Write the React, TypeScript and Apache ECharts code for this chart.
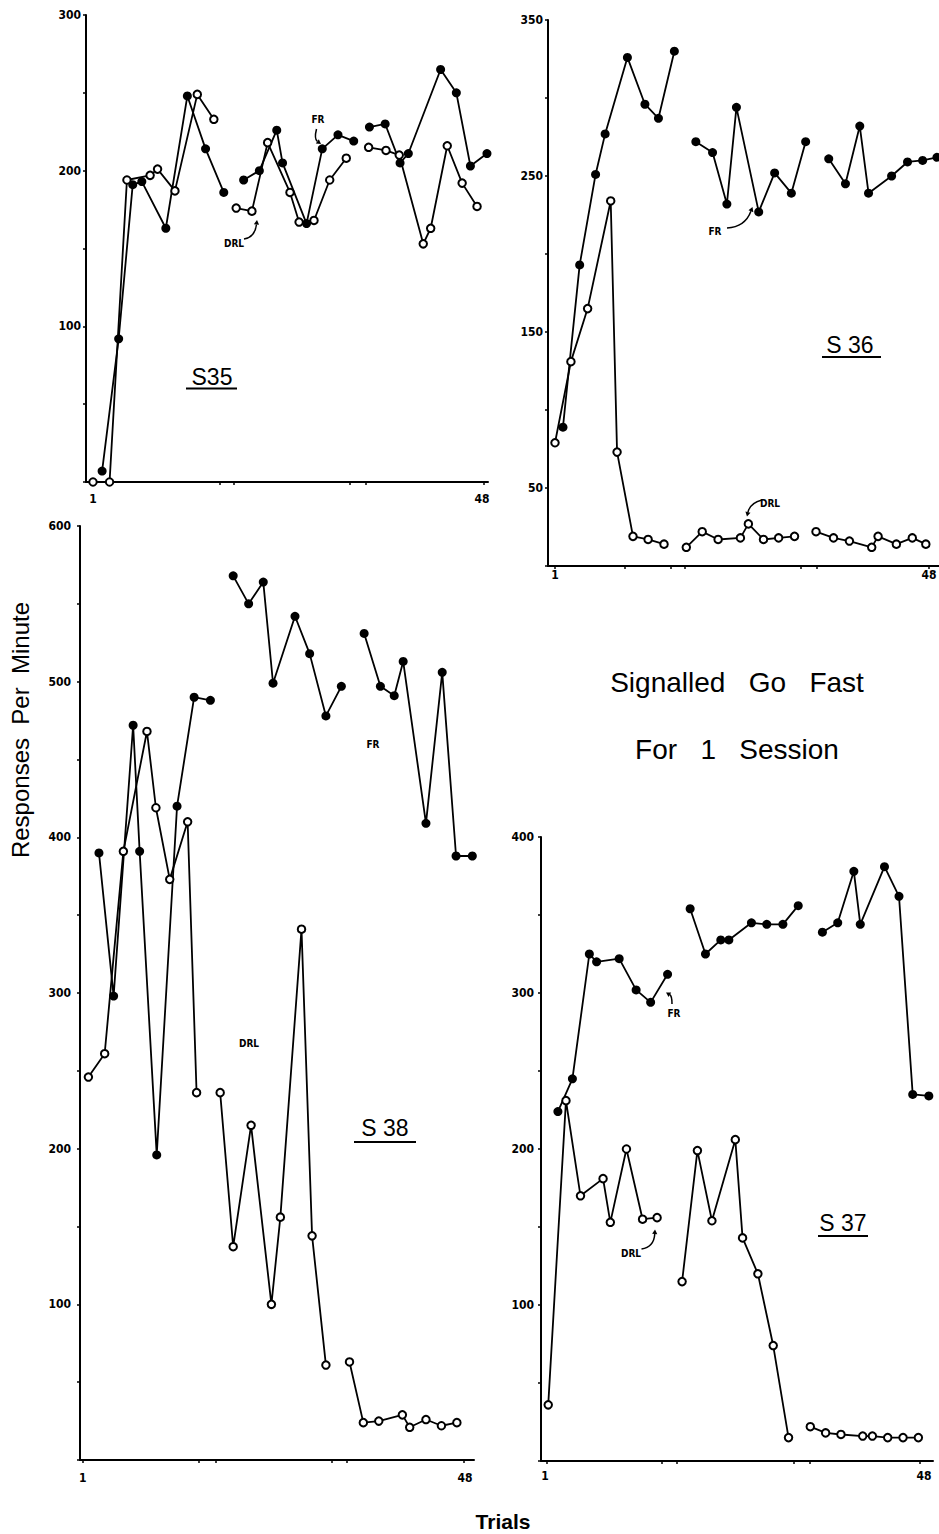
import { useEffect, useRef } from "react";
import * as echarts from "echarts";

type Pt = [number, number];

// ---- tick labels ----
const trialLabels = [1, 48];
const s35YLabels = [100, 200, 300];
const s36YLabels = [50, 150, 250, 350];
const s38YLabels = [100, 200, 300, 400, 500, 600];
const s37YLabels = [100, 200, 300, 400];

// session-boundary ticks on the trial axes
const s35XTicks = [1.1, 16.3, 18.0, 32.0, 34.0, 48.2];
const s36XTicks = [1, 9.8, 15.5, 17.3, 31.9, 33.9, 48];
const s38XTicks = [1, 15.3, 17.3, 31.6, 33.5, 47.9];
const s37XTicks = [1.2, 15.5, 17.4, 31.9, 33.8, 47.5];

// ---- data: [trial, responses per minute], one array per session ----
const s35FR: Pt[][] = [
  [[2.1, 7], [4.1, 92], [5.8, 191], [6.9, 193], [9.8, 163], [12.4, 248], [14.6, 214], [16.8, 186]],
  [[19.2, 194], [21.1, 200], [23.2, 226], [23.9, 205], [26.8, 166], [28.7, 214], [30.6, 223], [32.5, 219]],
  [[34.4, 228], [36.3, 230], [38.1, 205], [39.1, 211], [43.0, 265], [44.9, 250], [46.6, 203], [48.6, 211]],
];
const s35DRL: Pt[][] = [
  [[1.0, 0], [3.0, 0], [5.1, 194], [7.9, 197], [8.8, 201], [10.9, 187], [13.6, 249], [15.6, 233]],
  [[18.3, 176], [20.2, 174], [22.1, 218], [24.8, 186], [25.9, 167], [27.7, 168], [29.6, 194], [31.6, 208]],
  [[34.3, 215], [36.4, 213], [38.0, 210], [40.9, 153], [41.8, 163], [43.8, 216], [45.6, 192], [47.4, 177]],
];

const s36FR: Pt[][] = [
  [[2.0, 89], [4.1, 193], [6.1, 251], [7.3, 277], [10.1, 326], [12.3, 296], [14.0, 287], [16.0, 330]],
  [[18.7, 272], [20.8, 265], [22.6, 232], [23.8, 294], [26.6, 227], [28.6, 252], [30.7, 239], [32.5, 272]],
  [[35.4, 261], [37.5, 245], [39.3, 282], [40.4, 239], [43.3, 250], [45.3, 259], [47.2, 260], [49.0, 262]],
];
const s36DRL: Pt[][] = [
  [[1.0, 79], [3.0, 131], [5.1, 165], [8.0, 234], [8.8, 73], [10.8, 19], [12.7, 17], [14.7, 14]],
  [[17.5, 12], [19.5, 22], [21.5, 17], [24.3, 18], [25.3, 27], [27.2, 17], [29.1, 18], [31.1, 19]],
  [[33.8, 22], [36.0, 18], [38.0, 16], [40.8, 12], [41.6, 19], [43.9, 14], [45.9, 18], [47.6, 14]],
];

const s38FR: Pt[][] = [
  [[3.0, 390], [4.8, 298], [7.2, 472], [8.0, 391], [10.1, 196], [12.6, 420], [14.7, 490], [16.7, 488]],
  [[19.5, 568], [21.4, 550], [23.2, 564], [24.4, 499], [27.1, 542], [28.9, 518], [30.9, 478], [32.8, 497]],
  [[35.6, 531], [37.6, 497], [39.3, 491], [40.4, 513], [43.2, 409], [45.2, 506], [46.9, 388], [48.9, 388]],
];
const s38DRL: Pt[][] = [
  [[1.7, 246], [3.7, 261], [6.0, 391], [8.9, 468], [10.0, 419], [11.7, 373], [13.9, 410], [15.0, 236]],
  [[17.9, 236], [19.5, 137], [21.7, 215], [24.2, 100], [25.3, 156], [27.9, 341], [29.2, 144], [30.9, 61]],
  [[33.8, 63], [35.5, 24], [37.4, 25], [40.3, 29], [41.2, 21], [43.2, 26], [45.1, 22], [47.0, 24]],
];

const s37FR: Pt[][] = [
  [[2.6, 224], [4.4, 245], [6.5, 325], [7.4, 320], [10.2, 322], [12.3, 302], [14.1, 294], [16.2, 312]],
  [[19.0, 354], [20.9, 325], [22.8, 334], [23.8, 334], [26.6, 345], [28.5, 344], [30.5, 344], [32.4, 356]],
  [[35.4, 339], [37.3, 345], [39.3, 378], [40.1, 344], [43.1, 381], [44.9, 362], [46.6, 235], [48.6, 234]],
];
const s37DRL: Pt[][] = [
  [[1.4, 36], [3.6, 231], [5.4, 170], [8.2, 181], [9.1, 153], [11.1, 200], [13.1, 155], [14.9, 156]],
  [[18.0, 115], [19.9, 199], [21.7, 154], [24.6, 206], [25.5, 143], [27.4, 120], [29.3, 74], [31.2, 15]],
  [[33.9, 22], [35.8, 18], [37.7, 17], [40.4, 16], [41.6, 16], [43.5, 15], [45.4, 15], [47.3, 15]],
];

// ---- layout of the four panels (pixels) ----
const panels = [
  { fr: s35FR, drl: s35DRL, yLabels: s35YLabels, xTicks: s35XTicks, yMax: 300,
    left: 86, top: 15, right: 488, bottom: 482, px1: 93, px48: 482, yMargin: 5, xMargin: 11 },
  { fr: s36FR, drl: s36DRL, yLabels: s36YLabels, xTicks: s36XTicks, yMax: 350,
    left: 548, top: 20, right: 939, bottom: 566, px1: 555, px48: 929, yMargin: 5, xMargin: 3 },
  { fr: s38FR, drl: s38DRL, yLabels: s38YLabels, xTicks: s38XTicks, yMax: 600,
    left: 80, top: 526, right: 474, bottom: 1460, px1: 82.7, px48: 465, yMargin: 9, xMargin: 12 },
  { fr: s37FR, drl: s37DRL, yLabels: s37YLabels, xTicks: s37XTicks, yMax: 400,
    left: 541, top: 837, right: 933, bottom: 1461, px1: 545, px48: 924, yMargin: 7, xMargin: 9 },
];

const smallFont = "DejaVu Sans Condensed";
const mainFont = "Liberation Sans";

function arrow(x1: number, y1: number, cx: number, cy: number, x2: number, y2: number) {
  const a = Math.atan2(y2 - cy, x2 - cx);
  const s = 4.5;
  const w = 2.6;
  const bx = x2 - s * Math.cos(a);
  const by = y2 - s * Math.sin(a);
  const p2 = [bx + w * Math.sin(a), by - w * Math.cos(a)];
  const p3 = [bx - w * Math.sin(a), by + w * Math.cos(a)];
  return [
    { type: "bezierCurve", silent: true, shape: { x1, y1, x2: bx, y2: by, cpx1: cx, cpy1: cy },
      style: { stroke: "#000", lineWidth: 1.5, fill: "none" } },
    { type: "polygon", silent: true, shape: { points: [[x2, y2], p2, p3] }, style: { fill: "#000" } },
  ];
}

function smallText(text: string, x: number, y: number) {
  return { type: "text", x, y, silent: true,
    style: { text, fill: "#000", fontSize: 10, fontWeight: "bold", fontFamily: smallFont,
      align: "center", verticalAlign: "middle" } };
}

function subjectLabel(text: string, x: number, y: number, ux1: number, ux2: number, uy: number) {
  return [
    { type: "text", x, y, silent: true,
      style: { text, fill: "#000", fontSize: 23, fontFamily: mainFont, align: "center", verticalAlign: "middle" } },
    { type: "line", silent: true, shape: { x1: ux1, y1: uy, x2: ux2, y2: uy }, style: { stroke: "#000", lineWidth: 2 } },
  ];
}

export default function App() {
  const ref = useRef<HTMLDivElement>(null);

  useEffect(() => {
    if (!ref.current) return;
    const chart = echarts.init(ref.current, null, { renderer: "svg" });

    const grid: any[] = [];
    const xAxis: any[] = [];
    const yAxis: any[] = [];
    const series: any[] = [];

    panels.forEach((p, i) => {
      const step = (p.px48 - p.px1) / 47;
      const xMin = 1 + (p.left - p.px1) / step;
      const xMax = 1 + (p.right - p.px1) / step;
      grid.push({ left: p.left, top: p.top, width: p.right - p.left, height: p.bottom - p.top,
        containLabel: false, outerBoundsMode: "none" });
      xAxis.push({
        type: "value", gridIndex: i, min: xMin, max: xMax,
        axisLine: { show: true, onZero: false, lineStyle: { color: "#000", width: 2 } },
        axisTick: { show: true, customValues: p.xTicks, length: 3, lineStyle: { color: "#000", width: 1.5 } },
        axisLabel: { customValues: trialLabels, margin: p.xMargin, color: "#000", fontSize: 12,
          fontWeight: "bold", fontFamily: smallFont },
        splitLine: { show: false },
      });
      yAxis.push({
        type: "value", gridIndex: i, min: 0, max: p.yMax, interval: 50,
        axisLine: { show: true, onZero: false, lineStyle: { color: "#000", width: 2 } },
        axisTick: { show: true, length: 3, lineStyle: { color: "#000", width: 1.5 } },
        axisLabel: { customValues: p.yLabels, margin: p.yMargin, color: "#000", fontSize: 12,
          fontWeight: "bold", fontFamily: smallFont },
        splitLine: { show: false },
      });
      p.fr.forEach((seg) =>
        series.push({
          type: "line", name: "FR", xAxisIndex: i, yAxisIndex: i, data: seg,
          symbol: "circle", symbolSize: 9, showAllSymbol: true, clip: false, silent: true, z: 3,
          lineStyle: { color: "#000", width: 1.8 }, itemStyle: { color: "#000" },
          emphasis: { disabled: true },
        })
      );
      p.drl.forEach((seg) =>
        series.push({
          type: "line", name: "DRL", xAxisIndex: i, yAxisIndex: i, data: seg,
          symbol: "circle", symbolSize: 7.5, showAllSymbol: true, clip: false, silent: true, z: 4,
          lineStyle: { color: "#000", width: 1.8 },
          itemStyle: { color: "#fff", borderColor: "#000", borderWidth: 2 },
          emphasis: { disabled: true },
        })
      );
    });

    const graphic: any[] = [
      { type: "text", x: 20, y: 730, rotation: Math.PI / 2, silent: true,
        style: { text: "Responses  Per  Minute", fill: "#000", fontSize: 24, fontFamily: mainFont,
          align: "center", verticalAlign: "middle" } },
      { type: "text", x: 503, y: 1521, silent: true,
        style: { text: "Trials", fill: "#000", fontSize: 21, fontWeight: "bold", fontFamily: mainFont,
          align: "center", verticalAlign: "middle" } },
      { type: "text", x: 737, y: 682, silent: true,
        style: { text: "Signalled   Go   Fast", fill: "#000", fontSize: 28, fontFamily: mainFont,
          align: "center", verticalAlign: "middle" } },
      { type: "text", x: 737, y: 749, silent: true,
        style: { text: "For   1   Session", fill: "#000", fontSize: 28, fontFamily: mainFont,
          align: "center", verticalAlign: "middle" } },
      // S35
      smallText("FR", 318, 119),
      ...arrow(316.5, 129, 314, 139, 321, 144),
      smallText("DRL", 234, 243),
      ...arrow(244, 239, 255, 237, 257, 220),
      ...subjectLabel("S35", 212, 377, 186, 237, 388.5),
      // S36
      smallText("FR", 715, 231),
      ...arrow(727, 228, 745, 227, 752.5, 207),
      smallText("DRL", 770, 503),
      ...arrow(762, 500, 750, 503, 747, 516.5),
      ...subjectLabel("S 36", 850, 345, 822, 881, 357),
      // S38
      smallText("FR", 373, 744),
      smallText("DRL", 249, 1043),
      ...subjectLabel("S 38", 385, 1128, 354, 416, 1142),
      // S37
      smallText("FR", 674, 1013),
      ...arrow(672, 1004, 672, 996, 666, 992.5),
      smallText("DRL", 631, 1253),
      ...arrow(641.5, 1249, 654, 1247, 655, 1229.5),
      ...subjectLabel("S 37", 843, 1223, 818, 868, 1236),
    ];

    chart.setOption({
      animation: false,
      backgroundColor: "#fff",
      grid,
      xAxis,
      yAxis,
      series,
      graphic,
    });

    return () => chart.dispose();
  }, []);

  return (
    <div
      ref={ref}
      style={{ position: "absolute", left: 0, top: 0, width: 939, height: 1534, background: "#fff" }}
    />
  );
}
